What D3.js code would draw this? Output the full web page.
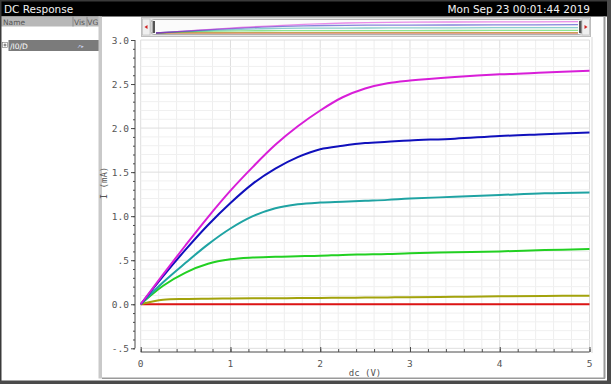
<!DOCTYPE html>
<html>
<head>
<meta charset="utf-8">
<script src="https://cdn.jsdelivr.net/npm/d3@7"></script>
<style>
  body { margin: 0; background: #fff; }
  svg { display: block; }
</style>
</head>
<body>
<svg width="611" height="384"></svg>
<script>
// Datos (dc en V, I en mA)
const vds = [0, 0.25, 0.5, 0.75, 1.0, 1.25, 1.5, 1.75, 2.0, 2.25, 2.5, 2.75, 3.0, 3.5, 4.0, 4.5, 5.0];
const iMagenta = [0, 0.34, 0.67, 0.99, 1.29, 1.56, 1.81, 2.02, 2.20, 2.35, 2.45, 2.51, 2.54, 2.58, 2.61, 2.63, 2.65];
const iBlue    = [0, 0.32, 0.62, 0.90, 1.15, 1.37, 1.54, 1.67, 1.76, 1.80, 1.83, 1.845, 1.86, 1.88, 1.91, 1.93, 1.95];
const iTeal    = [0, 0.25, 0.47, 0.68, 0.86, 1.00, 1.09, 1.135, 1.155, 1.165, 1.175, 1.185, 1.20, 1.22, 1.24, 1.26, 1.27];
const iGreen   = [0, 0.21, 0.36, 0.46, 0.51, 0.53, 0.54, 0.545, 0.55, 0.56, 0.565, 0.57, 0.58, 0.59, 0.60, 0.615, 0.626];
const iOlive   = [0, 0.05, 0.06, 0.063, 0.065, 0.067, 0.069, 0.07, 0.072, 0.074, 0.076, 0.078, 0.08, 0.085, 0.09, 0.094, 0.097];
const iRed     = [0, 0, 0, 0, 0, 0, 0, 0, 0, 0, 0, 0, 0, 0, 0, 0, 0];

const seriesNames = ["red", "olive", "green", "teal", "blue", "magenta"];
const seriesValues = [iRed, iOlive, iGreen, iTeal, iBlue, iMagenta];
const seriesColors = ["#dc1414", "#a3a30c", "#22d022", "#1fa3a3", "#1010bc", "#d81ed8"];

const yTicks = [-0.5, 0, 0.5, 1.0, 1.5, 2.0, 2.5, 3.0];
const yTickLabels = ["-.5", "0.0", ".5", "1.0", "1.5", "2.0", "2.5", "3.0"];
const xTicks = [0, 1, 2, 3, 4, 5];

const W = 611, H = 384;
const svg = d3.select("svg");
const mono = "'DejaVu Sans Mono', monospace";
const sans = "'DejaVu Sans', sans-serif";

// Escalas
const x = d3.scaleLinear().domain([0, 5]).range([140.7, 589.5]);
const y = d3.scaleLinear().domain([-0.5, 3]).range([348.3, 40]);

// Fondo y barra de título
svg.append("rect").attr("width", W).attr("height", H).attr("fill", "#fff");
svg.append("rect").attr("width", W).attr("height", 16.5).attr("fill", "#000");
svg.append("text").attr("x", 4).attr("y", 12.5).text("DC Response")
  .style("font-family", sans).style("font-size", "10.5px").style("fill", "#f2f2f2");
svg.append("text").attr("x", 590).attr("y", 12.5).attr("text-anchor", "end")
  .text("Mon Sep 23 00:01:44 2019")
  .style("font-family", sans).style("font-size", "10.5px").style("fill", "#f2f2f2");

// Panel izquierdo
svg.append("rect").attr("x", 0).attr("y", 16.5).attr("width", 100).attr("height", 10)
  .attr("fill", "#b8b8b8");
svg.append("line").attr("x1", 73).attr("x2", 73).attr("y1", 16.5).attr("y2", 26.5).attr("stroke", "#8a8a8a");
svg.append("line").attr("x1", 87).attr("x2", 87).attr("y1", 16.5).attr("y2", 26.5).attr("stroke", "#8a8a8a");
svg.append("text").attr("x", 3).attr("y", 24.5).text("Name")
  .style("font-family", sans).style("font-size", "7.5px").style("fill", "#555");
svg.append("text").attr("x", 74).attr("y", 24.5).text("Vis VG")
  .style("font-family", sans).style("font-size", "7.5px").style("fill", "#555");
svg.append("rect").attr("x", 8.5).attr("y", 40).attr("width", 90.5).attr("height", 11)
  .attr("fill", "#7b7b7b");
svg.append("rect").attr("x", 2.5).attr("y", 42.5).attr("width", 5).attr("height", 5)
  .attr("fill", "#fff").attr("stroke", "#777").attr("stroke-width", 0.6);
svg.append("path").attr("d", "M3.5,45h3M5,43.5v3").attr("stroke", "#333").attr("stroke-width", 0.7);
svg.append("text").attr("x", 10).attr("y", 48.5).text("/I0/D")
  .style("font-family", sans).style("font-size", "7.5px").style("fill", "#fff");
svg.append("text").attr("x", 77).attr("y", 48).text("↗▸")
  .style("font-family", sans).style("font-size", "5px").style("fill", "#c8d0ee");
svg.append("rect").attr("x", 98.5).attr("y", 16.5).attr("width", 3.5).attr("height", 362)
  .attr("fill", "#c9c9c9");

// Vista general (barra superior)
const ov = svg.append("g");
ov.append("rect").attr("x", 141.5).attr("y", 17.5).attr("width", 449).attr("height", 19)
  .attr("fill", "#e4e4e4").attr("stroke", "#bdbdbd");
ov.append("rect").attr("x", 151).attr("y", 19.5).attr("width", 431).attr("height", 15).attr("rx", 3)
  .attr("fill", "#fbfbfb").attr("stroke", "#b0b0b0");
[142.5, 582].forEach((bx, k) => {
  ov.append("rect").attr("x", bx).attr("y", 19).attr("width", 7.5).attr("height", 16)
    .attr("fill", "#efefef").attr("stroke", "#b5b5b5").attr("stroke-width", 0.6);
  ov.append("path").attr("d", k === 0 ? `M${bx + 2},27l3,-2v4z` : `M${bx + 5.5},27l-3,-2v4z`)
    .attr("fill", "#d02020");
});
[152.5, 579].forEach(hx => {
  ov.append("rect").attr("x", hx).attr("y", 21).attr("width", 2.5).attr("height", 12).attr("fill", "#555");
});
const xo = d3.scaleLinear().domain([0, 5]).range([156, 578]);
const yo = d3.scaleLinear().domain([0, 2.7]).range([33, 21.5]);
seriesValues.forEach((vals, k) => {
  const line = d3.line().x((d, i) => xo(vds[i])).y(d => yo(d));
  ov.append("path").datum(vals).attr("d", line).attr("fill", "none")
    .attr("stroke", seriesColors[k]).attr("stroke-opacity", 0.5).attr("stroke-width", 1.3);
});

// Rejilla
const grid = svg.append("g");
d3.range(0, 5.001, 0.2).forEach(v => {
  const major = Math.abs(v - Math.round(v)) < 1e-6;
  grid.append("line").attr("x1", x(v)).attr("x2", x(v)).attr("y1", y(3)).attr("y2", y(-0.5))
    .attr("stroke", major ? "#dedede" : "#eeeeee").attr("stroke-width", 1);
});
d3.range(-0.5, 3.001, 0.1).forEach(v => {
  const major = Math.abs(v * 2 - Math.round(v * 2)) < 1e-6;
  grid.append("line").attr("x1", x(0)).attr("x2", x(5)).attr("y1", y(v)).attr("y2", y(v))
    .attr("stroke", major ? "#dedede" : "#f0f0f0").attr("stroke-width", 1);
});

// Ejes
const axisColor = "#4a4a4a";
const yAxis = svg.append("g").attr("transform", "translate(135,0)")
  .call(d3.axisLeft(y).tickValues(yTicks).tickSize(4).tickPadding(2)
    .tickFormat((d, i) => yTickLabels[i]));
svg.append("g").attr("transform", "translate(135,0)")
  .call(d3.axisLeft(y).tickValues(d3.range(-0.5, 3.001, 0.1)).tickSize(2).tickFormat(""));
svg.append("g").attr("transform", "translate(0,352)")
  .call(d3.axisTop(x).tickValues(xTicks).tickSize(5).tickFormat(""));
svg.append("g").attr("transform", "translate(0,352)")
  .call(d3.axisTop(x).tickValues(d3.range(0, 5.001, 0.2)).tickSize(3).tickFormat(""));
svg.selectAll(".tick line").attr("stroke", axisColor);
svg.selectAll(".domain").remove();
svg.append("line").attr("x1", 135).attr("x2", 135).attr("y1", y(3)).attr("y2", y(-0.5)).attr("stroke", axisColor);
svg.append("line").attr("x1", x(0)).attr("x2", x(5)).attr("y1", 352).attr("y2", 352).attr("stroke", axisColor);
yAxis.selectAll("text").style("font-family", mono).style("font-size", "9.5px").style("fill", "#555");

svg.append("g").selectAll("text").data(xTicks).join("text")
  .attr("x", d => x(d)).attr("y", 367).attr("text-anchor", "middle")
  .text(d => d).style("font-family", mono).style("font-size", "9.5px").style("fill", "#555");

svg.append("text").attr("x", 365).attr("y", 376).attr("text-anchor", "middle").text("dc (V)")
  .style("font-family", mono).style("font-size", "9px").style("fill", "#555");
svg.append("text").attr("transform", "translate(107,183) rotate(-90)").attr("text-anchor", "middle")
  .text("I (mA)").style("font-family", mono).style("font-size", "9px").style("fill", "#555");

// Curvas
const lineGen = d3.line().x((d, i) => x(vds[i])).y(d => y(d)).curve(d3.curveCatmullRom.alpha(0.5));
seriesValues.forEach((vals, k) => {
  svg.append("path").datum(vals).attr("class", seriesNames[k]).attr("d", lineGen)
    .attr("fill", "none").attr("stroke", seriesColors[k]).attr("stroke-width", 2);
});

// Marcos
svg.append("line").attr("x1", 592).attr("x2", 592).attr("y1", 37).attr("y2", 353).attr("stroke", "#d8d8d8");
svg.append("rect").attr("x", 603.5).attr("y", 16.5).attr("width", 2).attr("height", 362).attr("fill", "#9a9a9a");
svg.append("rect").attr("x", 102).attr("y", 377.5).attr("width", 503).attr("height", 1.5).attr("fill", "#9a9a9a");
svg.append("rect").attr("x", 0.75).attr("y", 0.75).attr("width", W - 1.5).attr("height", H - 1.5)
  .attr("fill", "none").attr("stroke", "#3a3a3a").attr("stroke-width", 1.5);
svg.append("rect").attr("x", 0).attr("y", 380.5).attr("width", W).attr("height", 3.5).attr("fill", "#4a4a4a");
svg.append("rect").attr("x", 607).attr("y", 0).attr("width", 4).attr("height", H).attr("fill", "#4a4a4a");
</script>
</body>
</html>
